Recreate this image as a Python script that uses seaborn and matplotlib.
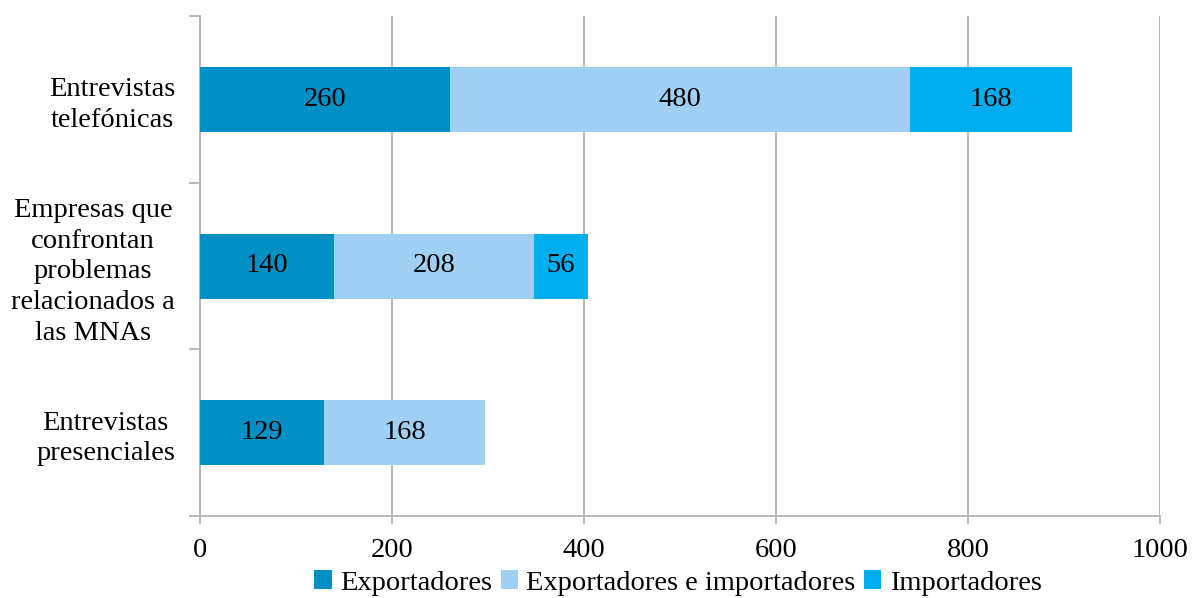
import matplotlib
matplotlib.use("Agg")
import matplotlib.pyplot as plt
import seaborn as sns
import pandas as pd
import numpy as np

categories = ["Entrevistas\ntelefónicas",
              "Empresas que\nconfrontan\nproblemas\nrelacionados a\nlas MNAs",
              "Entrevistas\npresenciales"]
exportadores = [260, 140, 129]
expimp = [480, 208, 168]
importadores = [168, 56, 0]
series_names = ["Exportadores", "Exportadores e importadores", "Importadores"]
colors = ["#0090C5", "#9FCFF3", "#00AEEF"]
xticks = [0, 200, 400, 600, 800, 1000]

sns.set_theme(style="white")
plt.rcParams['font.family'] = ['Liberation Serif', 'DejaVu Serif']
plt.rcParams['text.color'] = 'black'
plt.rcParams['xtick.labelcolor'] = 'black'
plt.rcParams['ytick.labelcolor'] = 'black'

fig = plt.figure(figsize=(11.92, 5.98), dpi=100)
ax = fig.add_axes([200/1192, (598-516)/598, 960/1192, 500/598])

c1 = np.array(exportadores)
c2 = c1 + np.array(expimp)
c3 = c2 + np.array(importadores)
df = pd.DataFrame({"cat": categories, "c1": c1, "c2": c2, "c3": c3})

for col, color in zip(["c3", "c2", "c1"], colors[::-1]):
    sns.barplot(data=df, y="cat", x=col, color=color, orient="h", width=0.39,
                saturation=1, ax=ax, zorder=3, linewidth=0, edgecolor="none")

fs = 20.5
for i in range(len(categories)):
    starts = [0, c1[i], c2[i]]
    vals = [exportadores[i], expimp[i], importadores[i]]
    for s, v in zip(starts, vals):
        if v > 0:
            ax.text(s + v/2, i, str(v), ha="center", va="center", fontsize=fs,
                    color="black", zorder=5)

ax.set_xlim(0, 1000)
ax.set_ylim(2.5, -0.5)
ax.set_xticks(xticks)
ax.set_xticklabels([str(t) for t in xticks], fontsize=fs)
ax.set_xlabel("")
ax.set_ylabel("")
ax.grid(axis="x", color="#B3B3B3", linewidth=1.3, zorder=0)
ax.grid(axis="y", visible=False)
ax.set_axisbelow(True)

ax.set_yticks(range(len(categories)))
ax.set_yticklabels(categories, fontsize=fs, linespacing=1.3)
for lab in ax.get_yticklabels():
    lab.set_multialignment("center")
ax.set_yticks([-0.5, 0.5, 1.5, 2.5], minor=True)
ax.tick_params(axis="y", which="major", length=0, pad=18)
ax.tick_params(axis="y", which="minor", length=8, width=1.3, color="#B3B3B3", left=True)
ax.tick_params(axis="x", which="major", length=6, width=1.3, color="#B3B3B3", bottom=True, pad=10)

for s in ["top", "right"]:
    ax.spines[s].set_visible(False)
for s in ["left", "bottom"]:
    ax.spines[s].set_color("#B3B3B3")
    ax.spines[s].set_linewidth(1.3)

from matplotlib.patches import Patch
handles = [Patch(facecolor=c, edgecolor="none") for c in colors]
fig.legend(handles, series_names, loc="center", bbox_to_anchor=(678/1192, 1-583/598),
           ncol=3, frameon=False, fontsize=fs, handlelength=0.6, handleheight=0.6,
           handletextpad=0.3, columnspacing=0.3, borderaxespad=0)

fig.savefig("out.png", dpi=100)
